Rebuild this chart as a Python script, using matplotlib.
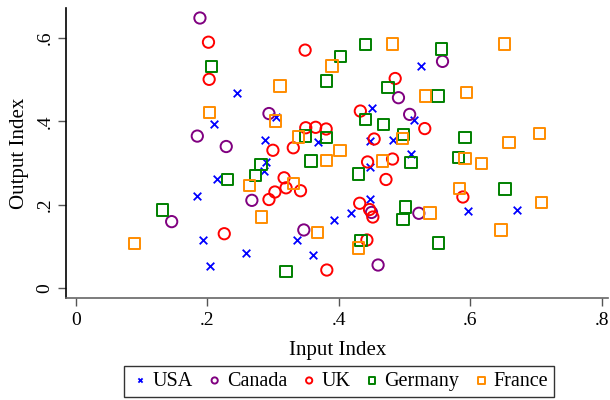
import matplotlib.pyplot as plt
from matplotlib.ticker import FuncFormatter

plt.rcParams["font.family"] = ["Liberation Serif", "DejaVu Serif"]

# Input/Output index values per country
usa_x = [0.246, 0.211, 0.305, 0.288, 0.368, 0.289, 0.286, 0.215, 0.185, 0.194,
         0.204, 0.259, 0.336, 0.361, 0.393, 0.419, 0.447, 0.448, 0.510, 0.526,
         0.450, 0.514, 0.447, 0.482, 0.597, 0.672]
usa_y = [0.469, 0.394, 0.411, 0.355, 0.350, 0.303, 0.282, 0.263, 0.222, 0.116,
         0.053, 0.086, 0.117, 0.079, 0.163, 0.180, 0.214, 0.290, 0.322, 0.533,
         0.433, 0.403, 0.353, 0.355, 0.186, 0.187]

canada_x = [0.189, 0.294, 0.185, 0.229, 0.268, 0.146, 0.347, 0.450, 0.460, 0.491,
            0.508, 0.558, 0.522]
canada_y = [0.648, 0.419, 0.365, 0.340, 0.211, 0.160, 0.140, 0.182, 0.056, 0.457,
            0.417, 0.544, 0.180]

uk_x = [0.202, 0.203, 0.349, 0.350, 0.365, 0.381, 0.300, 0.331, 0.317, 0.303,
        0.320, 0.342, 0.294, 0.226, 0.382, 0.433, 0.454, 0.486, 0.531, 0.444,
        0.482, 0.472, 0.432, 0.447, 0.452, 0.443, 0.589]
uk_y = [0.590, 0.501, 0.571, 0.385, 0.386, 0.382, 0.331, 0.337, 0.265, 0.231,
        0.241, 0.234, 0.213, 0.131, 0.044, 0.425, 0.358, 0.503, 0.383, 0.303,
        0.310, 0.261, 0.204, 0.189, 0.171, 0.116, 0.219]

germany_x = [0.207, 0.403, 0.441, 0.556, 0.381, 0.475, 0.551, 0.441, 0.468, 0.350,
             0.381, 0.499, 0.592, 0.282, 0.274, 0.231, 0.358, 0.430, 0.510, 0.582,
             0.653, 0.502, 0.498, 0.132, 0.320, 0.434, 0.552]
germany_y = [0.532, 0.555, 0.585, 0.574, 0.497, 0.482, 0.461, 0.405, 0.393, 0.365,
             0.362, 0.368, 0.361, 0.297, 0.271, 0.261, 0.305, 0.274, 0.301, 0.314,
             0.238, 0.195, 0.165, 0.188, 0.041, 0.114, 0.109]

france_x = [0.204, 0.311, 0.390, 0.482, 0.652, 0.304, 0.339, 0.402, 0.497, 0.532,
            0.595, 0.659, 0.706, 0.381, 0.467, 0.592, 0.617, 0.264, 0.331, 0.283,
            0.368, 0.090, 0.430, 0.539, 0.584, 0.709, 0.647]
france_y = [0.421, 0.485, 0.533, 0.586, 0.586, 0.401, 0.363, 0.331, 0.359, 0.461,
            0.469, 0.350, 0.371, 0.307, 0.305, 0.312, 0.299, 0.246, 0.251, 0.171,
            0.134, 0.108, 0.097, 0.181, 0.239, 0.205, 0.140]

fig = plt.figure(figsize=(6.1, 4.0), dpi=100)
ax = fig.add_axes([0.109, 0.254, 0.888, 0.725])

ax.scatter(usa_x, usa_y, marker="x", s=30, color="blue", linewidths=1.3, label="USA")
ax.scatter(canada_x, canada_y, marker="o", s=66, facecolors="none",
           edgecolors="purple", linewidths=1.4, label="Canada")
ax.scatter(uk_x, uk_y, marker="o", s=66, facecolors="none",
           edgecolors="red", linewidths=1.4, label="UK")
ax.scatter(germany_x, germany_y, marker="s", s=66, facecolors="none",
           edgecolors="green", linewidths=1.4, label="Germany")
ax.scatter(france_x, france_y, marker="s", s=66, facecolors="none",
           edgecolors="darkorange", linewidths=1.4, label="France")

ax.set_xlim(-0.014, 0.81)
ax.set_ylim(-0.024, 0.671)

fmt = FuncFormatter(lambda v, p: "0" if abs(v) < 1e-9 else ("%.1f" % v).lstrip("0"))
ax.set_xticks([0, 0.2, 0.4, 0.6, 0.8])
ax.set_yticks([0, 0.2, 0.4, 0.6])
ax.xaxis.set_major_formatter(fmt)
ax.yaxis.set_major_formatter(fmt)
ax.tick_params(axis="both", labelsize=14, length=6, width=1, color="#555555")
plt.setp(ax.get_yticklabels(), rotation=90, va="center")

for side in ["top", "right"]:
    ax.spines[side].set_visible(False)
ax.spines["left"].set_linewidth(1.2)
ax.spines["bottom"].set_linewidth(1.2)
ax.spines["bottom"].set_color("#666666")

ax.set_xlabel("Input Index", fontsize=15, labelpad=9)
ax.set_ylabel("Output Index", fontsize=15, labelpad=5)

leg = fig.legend(loc="lower center", bbox_to_anchor=(0.556, 0.008), ncol=5,
                 fontsize=14.5, frameon=True, fancybox=False, handletextpad=0.1,
                 columnspacing=0.6, borderpad=0.3, borderaxespad=0.0,
                 handlelength=1.0, markerscale=0.55)
leg.get_frame().set_edgecolor("black")
leg.get_frame().set_linewidth(1.0)

fig.savefig("out.png", dpi=100)
